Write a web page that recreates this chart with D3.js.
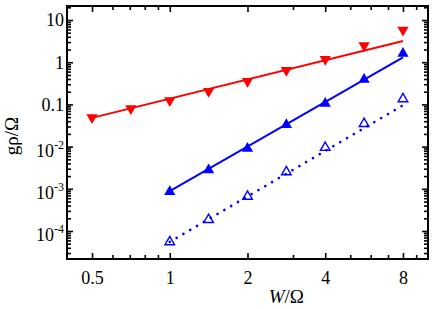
<!DOCTYPE html>
<html lang="en">
<head>
<meta charset="UTF-8">
<title>g rho vs W</title>
<script src="https://d3js.org/d3.v7.min.js"></script>
<style>
    body { margin: 0; background: #fff; }
    svg text { font-family: "Liberation Serif", "Times New Roman", serif; fill: #000; }
</style>
</head>
<body>
<div id="chart"></div>
<script>
// data
const xRed = [0.5, 0.707, 1, 1.414, 2, 2.828, 4, 5.657, 8];
const yRed = [0.049, 0.080, 0.124, 0.204, 0.353, 0.645, 1.18, 2.5, 5.8];
const xBlue = [1, 1.414, 2, 2.828, 4, 5.657, 8];
const yBlueFilled = [0.00085, 0.0028, 0.0090, 0.033, 0.105, 0.39, 1.6];
const yBlueOpen = [5.5e-5, 1.85e-4, 6.6e-4, 2.5e-3, 0.0095, 0.035, 0.135];

// power-law fit lines (end points)
const redFitX = [0.5, 8], redFitY = [0.048, 3.2];
const blueFitX = [1, 8], blueFitY = [0.00088, 1.3];
const openFitX = [1, 8], openFitY = [5.5e-5, 0.095];

const xMajor = [0.5, 1, 2, 4, 8];
const xMinor = [0.6, 0.7, 0.8, 0.9, 3, 5, 6, 7, 9];
const yMajor = [1e-4, 1e-3, 1e-2, 0.1, 1, 10];
const yLabels = [["10", "-4"], ["10", "-3"], ["10", "-2"], ["0.1", ""], ["1", ""], ["10", ""]];

const width = 436, height = 309;
const margin = { left: 67, right: 8, top: 6, bottom: 50 };
const iw = width - margin.left - margin.right;
const ih = height - margin.top - margin.bottom;

const svg = d3.select("#chart").append("svg")
    .attr("width", width)
    .attr("height", height);

const g = svg.append("g").attr("transform", `translate(${margin.left},${margin.top})`);

const x = d3.scaleLog().domain([0.4, 10]).range([0, iw]);
const y = d3.scaleLog().domain([2.17e-5, 21.5]).range([ih, 0]);

const yMinor = [];
for (let e = -5; e <= 1; e++) {
    for (let k = 2; k <= 9; k++) {
        const v = k * Math.pow(10, e);
        if (v > 2.17e-5 && v < 21.5) yMinor.push(v);
    }
}

function styleAxis(sel) {
    sel.select(".domain").remove();
    sel.selectAll("line").attr("stroke", "#000").attr("stroke-width", 1.6);
}

// ticks (inward) on all four sides
g.append("g").attr("transform", `translate(0,${ih})`)
    .call(d3.axisBottom(x).tickValues(xMinor).tickSize(-4).tickFormat(""))
    .call(styleAxis);
const xAxis = g.append("g").attr("transform", `translate(0,${ih})`)
    .call(d3.axisBottom(x).tickValues(xMajor).tickSize(-6).tickPadding(12).tickFormat(d3.format("")))
    .call(styleAxis);
xAxis.selectAll("text").attr("font-size", 18);

g.append("g")
    .call(d3.axisTop(x).tickValues(xMinor).tickSize(-4).tickFormat(""))
    .call(styleAxis);
g.append("g")
    .call(d3.axisTop(x).tickValues(xMajor).tickSize(-6).tickFormat(""))
    .call(styleAxis);

g.append("g")
    .call(d3.axisLeft(y).tickValues(yMinor).tickSize(-4).tickFormat(""))
    .call(styleAxis);
const yAxis = g.append("g")
    .call(d3.axisLeft(y).tickValues(yMajor).tickSize(-6).tickPadding(3).tickFormat(""))
    .call(styleAxis);

g.append("g").attr("transform", `translate(${iw},0)`)
    .call(d3.axisRight(y).tickValues(yMinor).tickSize(-4).tickFormat(""))
    .call(styleAxis);
g.append("g").attr("transform", `translate(${iw},0)`)
    .call(d3.axisRight(y).tickValues(yMajor).tickSize(-6).tickFormat(""))
    .call(styleAxis);

// y tick labels with superscripts
yAxis.selectAll(".tick").each(function(d, i) {
    const t = d3.select(this).select("text")
        .attr("x", -3)
        .attr("text-anchor", "end")
        .attr("font-size", 18)
        .text(null);
    const lab = yLabels[i];
    if (lab[1]) {
        t.attr("dy", "0.55em");
        t.append("tspan").text(lab[0]);
        t.append("tspan").attr("font-size", 12).attr("dy", -8).text(lab[1]);
    } else {
        t.attr("dy", "0.33em");
        t.append("tspan").text(lab[0]);
    }
});

// frame
g.append("rect")
    .attr("width", iw).attr("height", ih)
    .attr("fill", "none").attr("stroke", "#000").attr("stroke-width", 2);

const line = d3.line().x(d => x(d[0])).y(d => y(d[1]));
const plot = g.append("g");

plot.append("path")
    .attr("d", line(d3.zip(redFitX, redFitY)))
    .attr("fill", "none").attr("stroke", "#ff0000").attr("stroke-width", 2);
plot.append("path")
    .attr("d", line(d3.zip(blueFitX, blueFitY)))
    .attr("fill", "none").attr("stroke", "#0000ff").attr("stroke-width", 2);
plot.append("path")
    .attr("d", line(d3.zip(openFitX, openFitY)))
    .attr("fill", "none").attr("stroke", "#0000ff").attr("stroke-width", 2.6)
    .attr("stroke-linecap", "round")
    .attr("stroke-dasharray", "0.1 7.8");

const tri = d3.symbol().type(d3.symbolTriangle);

plot.selectAll(".red").data(d3.zip(xRed, yRed)).join("path")
    .attr("class", "red")
    .attr("d", tri.size(55)())
    .attr("transform", d => `translate(${x(d[0])},${y(d[1])}) rotate(180)`)
    .attr("fill", "#ff0000");

plot.selectAll(".bfill").data(d3.zip(xBlue, yBlueFilled)).join("path")
    .attr("class", "bfill")
    .attr("d", tri.size(55)())
    .attr("transform", d => `translate(${x(d[0])},${y(d[1])})`)
    .attr("fill", "#0000ff");

plot.selectAll(".bopen").data(d3.zip(xBlue, yBlueOpen)).join("path")
    .attr("class", "bopen")
    .attr("d", tri.size(40)())
    .attr("transform", d => `translate(${x(d[0])},${y(d[1])})`)
    .attr("fill", "none")
    .attr("stroke", "#0000ff")
    .attr("stroke-width", 1.4);

// axis titles
svg.append("text")
    .attr("x", margin.left + x(Math.sqrt(8))).attr("y", 303)
    .attr("text-anchor", "middle")
    .attr("font-size", 19)
    .html('<tspan font-style="italic">W</tspan>/Ω');

svg.append("text")
    .attr("transform", `translate(18,136) rotate(-90)`)
    .attr("text-anchor", "middle")
    .attr("font-size", 19)
    .text("gρ/Ω");
</script>
</body>
</html>
